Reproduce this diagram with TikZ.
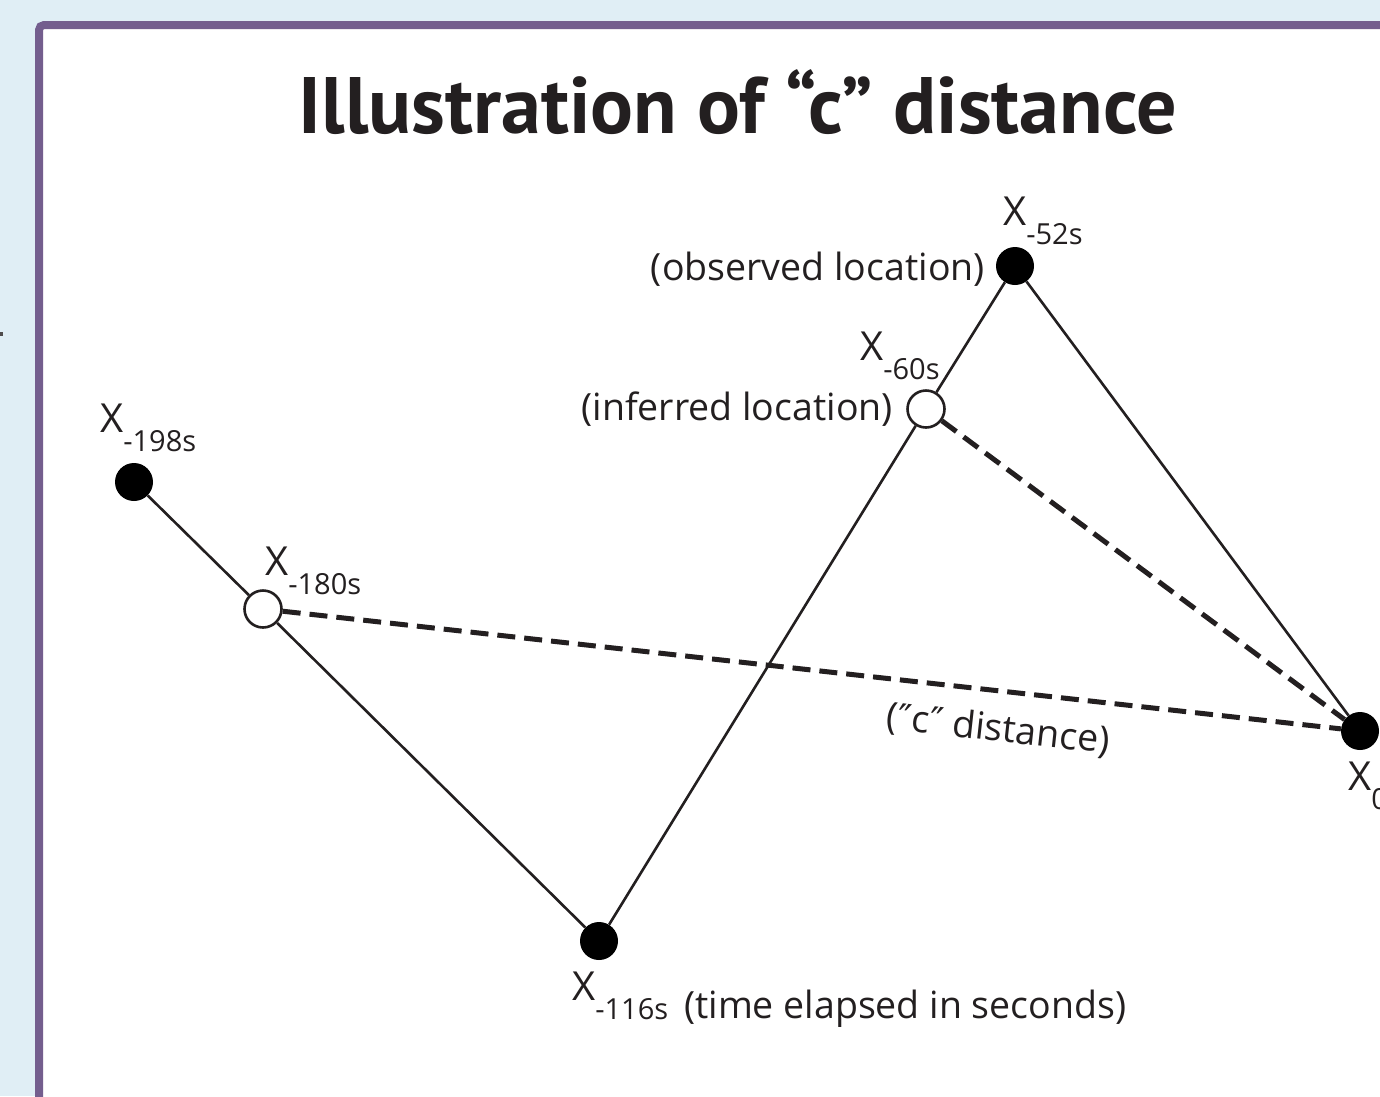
\documentclass[tikz,border=0pt]{standalone}
\usepackage{fontspec}
\setmainfont{Open Sans}
\newfontfamily\titlefont{PT Sans}
\newfontfamily\symfont{DejaVu Sans}
\definecolor{bgblue}{HTML}{E0EEF5}
\definecolor{frame}{HTML}{745E8E}
\definecolor{ink}{HTML}{231F20}
\newcommand\xsub[1]{X\raisebox{-19pt}{\fontsize{29}{29}\selectfont #1}}
\begin{document}
\begin{tikzpicture}[x=1pt,y=-1pt,
  dotfull/.style={circle,fill=black,draw=none,minimum size=38pt,inner sep=0pt},
  dotopen/.style={circle,fill=white,draw=ink,line width=2.6pt,minimum size=37pt,inner sep=0pt},
  solidline/.style={draw=ink,line width=2.6pt},
  dashline/.style={draw=ink,line width=5pt,dash pattern=on 18pt off 9pt},
  lab/.style={text=ink,inner sep=0pt,font=\fontsize{40}{42}\selectfont},
  txt/.style={text=ink,inner sep=0pt,font=\fontsize{37.5}{40}\selectfont}]
\useasboundingbox (0,0) rectangle (1380,1096);
\clip (0,0) rectangle (1380,1096);
\fill[bgblue] (0,0) rectangle (1380,1096);
\fill[ink!80] (0,332) rectangle (3,336);
\draw[frame,line width=8pt,fill=white,rounded corners=5pt] (39,25) rectangle (1420,1140);
% title
\node[text=ink,inner sep=0pt,anchor=base,font=\titlefont\bfseries\fontsize{80}{90}\selectfont] (title) at (738,133) {Illustration of “c” distance};
% points
\node[dotfull] (p198) at (134,482) {};
\node[dotopen] (p180) at (263,609) {};
\node[dotfull] (p116) at (599,941) {};
\node[dotopen] (p60) at (926,409) {};
\node[dotfull] (p52) at (1015,266) {};
\node[dotfull] (p0) at (1360,731) {};
% path
\draw[solidline] (p198) -- (p180) -- (p116) -- (p60) -- (p52) -- (p0);
\draw[dashline] (p180) -- (p0);
\draw[dashline] (p60) -- (p0);
% labels
\node[lab,anchor=base west] (l198) at (100,432) {\xsub{-198s}};
\node[lab,anchor=base west] (l180) at (265,575) {\xsub{-180s}};
\node[lab,anchor=base west] (l116) at (572,1000) {\xsub{-116s}};
\node[txt,anchor=base west] (t116) at (684,1018) {(time elapsed in seconds)};
\node[lab,anchor=base west] (l60) at (860,360) {\xsub{-60s}};
\node[txt,anchor=base east] (t60) at (893,420) {(inferred location)};
\node[lab,anchor=base west] (l52) at (1003,225) {\xsub{-52s}};
\node[txt,anchor=base east] (t52) at (985,280) {(observed location)};
\node[lab,anchor=base west] (l0) at (1348,790) {\xsub{0}};
\node[txt,rotate=-6.3] (cd) at (998,730) {({\symfont ″}c{\symfont ″} distance)};
\end{tikzpicture}
\end{document}
